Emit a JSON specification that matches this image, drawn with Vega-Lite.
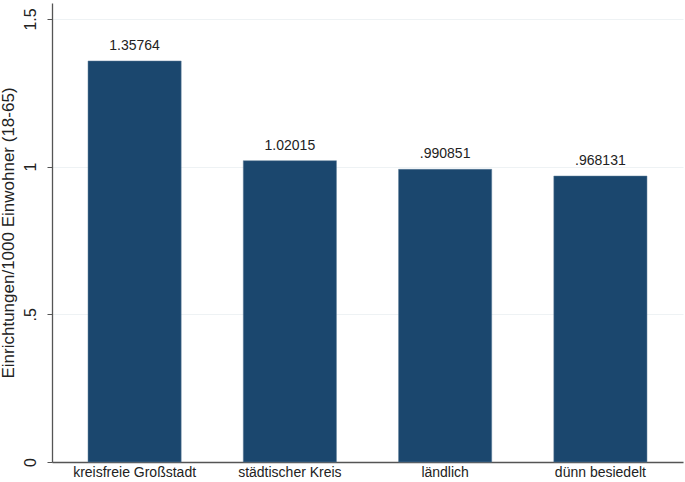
{
  "$schema": "https://vega.github.io/schema/vega-lite/v6.json",
  "width": 631,
  "height": 459,
  "autosize": {"type": "none"},
  "padding": {"left": 52, "top": 3, "right": 2, "bottom": 20},
  "background": "white",
  "config": {
    "view": {"stroke": null},
    "font": "Liberation Sans"
  },
  "data": {
    "values": [
      {"typ": "kreisfreie Großstadt", "wert": 1.35764, "label": "1.35764"},
      {"typ": "städtischer Kreis", "wert": 1.02015, "label": "1.02015"},
      {"typ": "ländlich", "wert": 0.990851, "label": ".990851"},
      {"typ": "dünn besiedelt", "wert": 0.968131, "label": ".968131"}
    ]
  },
  "encoding": {
    "x": {
      "field": "typ",
      "type": "nominal",
      "sort": null,
      "scale": {"paddingInner": 0.4, "paddingOuter": 0.232},
      "axis": {
        "title": null,
        "labelAngle": 0,
        "labelFontSize": 14,
        "labelColor": "#222",
        "labelPadding": 3,
        "ticks": false,
        "domainColor": "#555",
        "domainWidth": 1.3
      }
    },
    "y": {
      "field": "wert",
      "type": "quantitative",
      "scale": {"domain": [0, 1.554], "nice": false, "zero": true},
      "axis": {
        "title": "Einrichtungen/1000 Einwohner (18-65)",
        "titleFontSize": 17,
        "titleFontWeight": "normal",
        "titleColor": "#222",
        "titlePadding": 5,
        "values": [0, 0.5, 1, 1.5],
        "labelExpr": "datum.value == 0 ? '0' : datum.value == 0.5 ? '.5' : datum.value == 1 ? '1' : '1.5'",
        "labelAngle": -90,
        "labelAlign": "center",
        "labelBaseline": "bottom",
        "labelFontSize": 16,
        "labelColor": "#222",
        "labelPadding": 9,
        "tickSize": 5,
        "tickColor": "#555",
        "domainColor": "#555",
        "domainWidth": 1.3,
        "grid": true,
        "gridColor": "#eef2f4",
        "gridWidth": 1
      }
    }
  },
  "layer": [
    {"mark": {"type": "bar", "color": "#1b476e", "stroke": "#5d7d99", "strokeWidth": 0.5}},
    {
      "mark": {"type": "text", "baseline": "bottom", "dy": -8, "fontSize": 14, "color": "#222"},
      "encoding": {"text": {"field": "label"}}
    }
  ]
}
